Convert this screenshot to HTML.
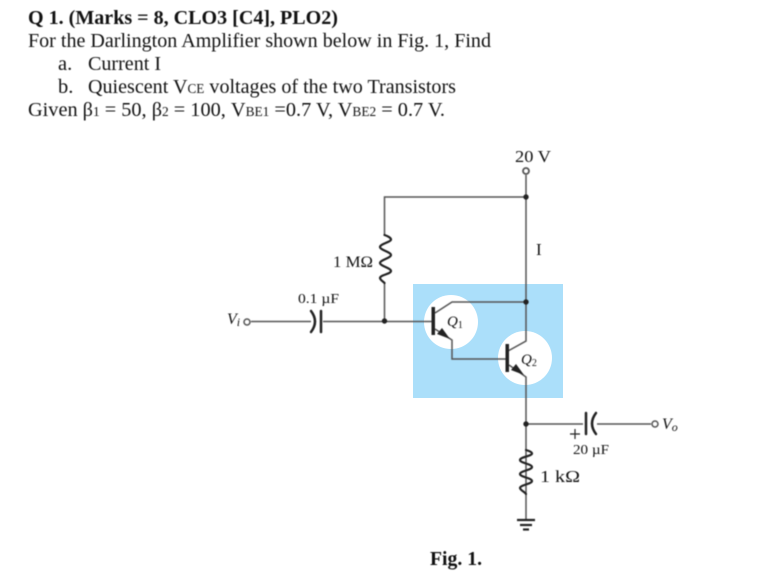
<!DOCTYPE html>
<html><head><meta charset="utf-8"><style>
html,body{margin:0;padding:0;background:#fff}
svg{display:block}
text{font-family:"Liberation Serif",serif;fill:#111}
.b{filter:blur(.45px)}
</style></head><body>
<svg width="776" height="580" viewBox="0 0 776 580" xmlns="http://www.w3.org/2000/svg">
<rect width="776" height="580" fill="#fff"/>
<g font-size="20.500" class="b">
<text x="28" y="24" font-weight="bold" textLength="310" lengthAdjust="spacingAndGlyphs">Q 1. (Marks = 8, CLO3 [C4], PLO2)</text>
<text x="28" y="47" textLength="463" lengthAdjust="spacingAndGlyphs">For the Darlington Amplifier shown below in Fig. 1, Find</text>
<text x="58" y="70">a.</text><text x="88" y="70" textLength="73" lengthAdjust="spacingAndGlyphs">Current I</text>
<text x="58" y="93">b.</text><text x="88" y="93" textLength="368" lengthAdjust="spacingAndGlyphs">Quiescent V<tspan font-size="13.500">CE</tspan> voltages of the two Transistors</text>
<text x="28" y="116" textLength="417" lengthAdjust="spacingAndGlyphs">Given β<tspan font-size="13.500">1</tspan> = 50, β<tspan font-size="13.500">2</tspan> = 100, V<tspan font-size="13.500">BE1</tspan> =0.7 V, V<tspan font-size="13.500">BE2</tspan> = 0.7 V.</text>
</g>
<rect x="413" y="284" width="150" height="114" fill="#abdffa"/>
<circle cx="451" cy="322" r="27" fill="#fff"/>
<circle cx="525" cy="358" r="27" fill="#fff"/>
<g class="b">
<g fill="none" stroke="#555" stroke-width="1.500">
<path d="M526 175V341L508 351"/>
<path d="M526 197H384.500V235M384.500 283V321"/>
<path d="M251 321.500H311M323 321.500H433"/>
<path d="M435 313L452 302H526"/>
<path d="M435 329L452 340V359H507"/>
<path d="M509 365L526 377V520"/>
<path d="M526 424H583M597 424H651"/>
<path d="M570 434H580M575 429V439" stroke="#222" stroke-width="1.200"/>
<circle cx="247" cy="322" r="3" fill="#fff"/>
<circle cx="655" cy="424" r="3" fill="#fff"/>
<circle cx="526" cy="171" r="3" fill="#fff" stroke-width="1.800"/>
</g>
<g fill="none" stroke="#222" stroke-width="2.200" stroke-linejoin="round" stroke-linecap="round">
<path d="M384.500 235C388 236 391 238 391 239.500C391 242 380 244 380 247C380 250 391 252 391 255C391 258 380 260 380 263C380 266 391 268 391 271C391 274 380 275 380 278C380 280 384 282 384.500 283"/>
<path d="M526 450C529 451 532 452 532 453.500C532 456 520 457 520 460C520 463 532 464 532 467C532 470 520 471 520 474C520 477 532 478 532 481C532 484 520 485 520 488C520 490 525 492 526 494"/>
<path d="M311 311Q319 321.500 311 332" stroke-width="2.500"/>
<path d="M321 311V332" stroke-width="2.500"/>
<path d="M586 413V434" stroke-width="2.500"/>
<path d="M596 413Q588 423.500 596 434" stroke-width="2.500"/>
<path d="M517 520H535" stroke-linecap="butt"/>
<path d="M520 525H532" stroke-linecap="butt"/>
<path d="M523 529.500H529" stroke-linecap="butt"/>
</g>
<g fill="#222">
<rect x="431.500" y="307" width="3.500" height="28"/>
<rect x="505.500" y="344" width="3.500" height="28"/>
<circle cx="384.500" cy="321" r="2.700"/>
<circle cx="526" cy="197" r="2.700"/>
<circle cx="526" cy="302" r="2.700"/>
<circle cx="526" cy="424" r="2.700"/>
<path d="M437 334L442 328L450 339Z"/>
<path d="M511 370L516 364L524 375Z"/>
</g>
<g fill="#333">
<text x="515" y="162" font-size="17" textLength="36" lengthAdjust="spacingAndGlyphs">20 V</text>
<text x="536" y="255" font-size="17">I</text>
<text x="333" y="267" font-size="15.500" textLength="40" lengthAdjust="spacingAndGlyphs">1 MΩ</text>
<text x="298" y="303" font-size="14" textLength="41" lengthAdjust="spacingAndGlyphs">0.1 µF</text>
<text x="227" y="324" font-size="16" font-style="italic" fill="#345">V<tspan font-size="12" dy="2">i</tspan></text>
<text x="447" y="326" font-size="15" font-style="italic">Q<tspan font-size="10" dy="2" font-style="normal">1</tspan></text>
<text x="521" y="364" font-size="15" font-style="italic">Q<tspan font-size="10" dy="2" font-style="normal">2</tspan></text>
<text x="573" y="454" font-size="14" textLength="36" lengthAdjust="spacingAndGlyphs">20 µF</text>
<text x="540" y="482" font-size="17" textLength="40" lengthAdjust="spacingAndGlyphs">1 kΩ</text>
<text x="662" y="429" font-size="16" font-style="italic" fill="#345">V<tspan font-size="12" dy="2">o</tspan></text>
</g>
<text x="430" y="565" font-size="20" font-weight="bold" textLength="52" lengthAdjust="spacingAndGlyphs">Fig. 1.</text>
</g>
</svg>
</body></html>
